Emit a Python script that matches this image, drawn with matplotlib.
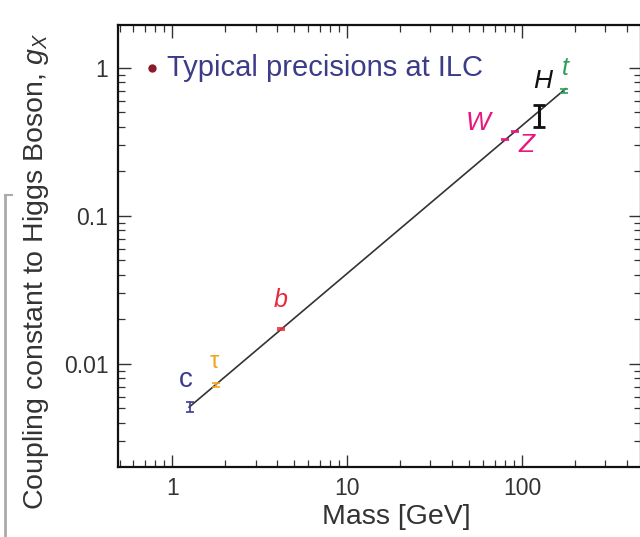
import matplotlib
matplotlib.use("Agg")
import matplotlib.pyplot as plt
from matplotlib import ticker
from matplotlib.lines import Line2D

plt.rcParams["font.family"] = ["Liberation Sans", "DejaVu Sans"]
plt.rcParams["mathtext.fontset"] = "custom"
plt.rcParams["mathtext.rm"] = "Liberation Sans"
plt.rcParams["mathtext.it"] = "Liberation Sans:italic"

# particles: mass [GeV], coupling g_X, typical ILC error on g_X
particles = ["c", "τ", "b", "W", "Z", "H", "t"]
mass = [1.27, 1.78, 4.18, 80.4, 91.2, 125, 173]
coupling = [0.0051, 0.0072, 0.0172, 0.327, 0.371, 0.48, 0.70]
error = [0.0004, 0.00017, 0.0003, 0.003, 0.003, 0.08, 0.02]

# straight line g = m / v
line_mass = [1.25, 178]
line_g = [0.0051, 0.724]

colors = ["#3b3b8f", "#f3a21f", "#e62a3c", "#e8177f", "#e8177f", "#111111", "#2e9e5b"]
italic = [False, False, True, True, True, True, True]
offsets = [(-5, 27), (-2, 23), (0, 29), (-27, 17), (12, -13), (4, 34), (2, 23)]
sizes = [20, 17, 18, 19, 19, 19, 18]

fig = plt.figure(figsize=(6.4, 5.37), dpi=100)
W_PX, H_PX = 640, 537
left, right, top, bottom = 118, 641, 25, 467
ax = fig.add_axes([left / W_PX, 1 - bottom / H_PX,
                   (right - left) / W_PX, (bottom - top) / H_PX])
ax.set_xscale("log")
ax.set_yscale("log")
ax.set_xlim(0.49, 480)
ax.set_ylim(0.00201, 1.95)

ax.plot(line_mass, line_g, color="#333333", lw=1.2, zorder=2)

for i, p in enumerate(particles):
    big = p == "H"
    ax.errorbar(mass[i], coupling[i], yerr=error[i], fmt="none",
                ecolor=colors[i], elinewidth=2.2 if big else 1.2,
                capsize=4.5 if big else 3, capthick=2.0 if big else 1.2,
                zorder=3)
    ax.annotate(p, (mass[i], coupling[i]), xytext=offsets[i],
                textcoords="offset pixels", ha="center", va="center",
                color=colors[i], fontsize=sizes[i],
                style="italic" if italic[i] else "normal")

# legend-like note
ax.plot([0.77], [1.0], "o", color="#8b1a2b", ms=5, zorder=3)
ax.text(0.94, 1.0, "Typical precisions at ILC", color="#3c3c88",
        fontsize=21, ha="left", va="center")

fmt = ticker.FuncFormatter(lambda v, _: f"{v:g}")
ax.xaxis.set_major_formatter(fmt)
ax.yaxis.set_major_formatter(fmt)
ax.xaxis.set_minor_formatter(ticker.NullFormatter())
ax.yaxis.set_minor_formatter(ticker.NullFormatter())
ax.tick_params(which="both", direction="in", top=True, right=True,
               colors="#333333", labelsize=16.5, pad=7)
ax.tick_params(which="major", length=9, width=1.0)
ax.tick_params(which="minor", length=5, width=0.9)
for s in ax.spines.values():
    s.set_linewidth(1.6)
    s.set_color("#111111")

fig.text(396 / W_PX, 1 - 517 / H_PX, "Mass [GeV]", fontsize=20.5,
         ha="center", va="center", color="#333333")
fig.text(36 / W_PX, 1 - 272 / H_PX, "Coupling constant to Higgs Boson, $g_X$",
         fontsize=20.5, rotation=90, ha="center", va="center", color="#333333")

# grey edge of the surrounding frame
fig.add_artist(Line2D([5 / W_PX, 5 / W_PX], [0, 1 - 195 / H_PX],
                      color="#aaaaaa", lw=2.0))
fig.add_artist(Line2D([5 / W_PX, 12 / W_PX], [1 - 195 / H_PX, 1 - 195 / H_PX],
                      color="#aaaaaa", lw=1.5))

fig.savefig("out.png", dpi=100)
